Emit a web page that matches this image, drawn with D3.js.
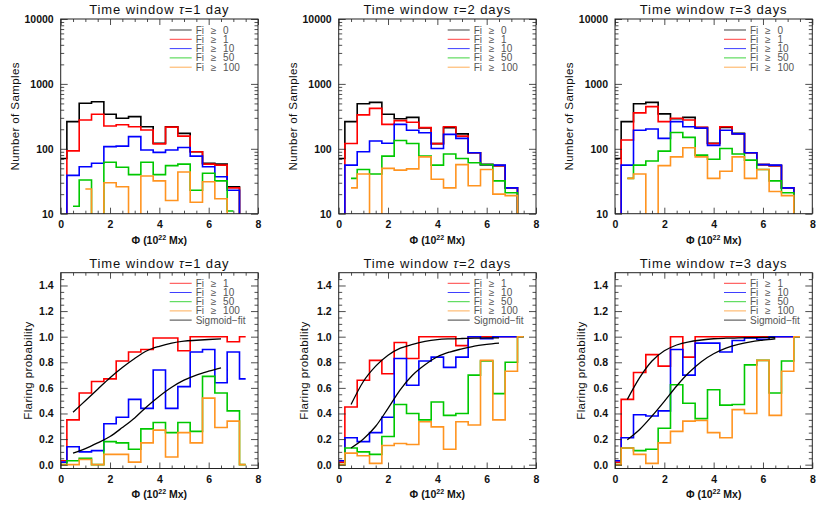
<!DOCTYPE html>
<html>
<head>
<meta charset="utf-8">
<script src="https://cdn.jsdelivr.net/npm/d3@7"></script>
<style>
body { margin: 0; background: #fff; }
svg { display: block; font-family: "Liberation Sans", Arial, sans-serif; }
</style>
</head>
<body>
<div id="container"></div>
<script>
var width = 830;
var height = 507;

// bin centres of the magnetic flux histogram (10^22 Mx)
var phi = [0, 0.5, 1, 1.5, 2, 2.5, 3, 3.5, 4, 4.5, 5, 5.5, 6, 6.5, 7, 7.5];
// x positions of the sigmoid fit curves
var phiFit = [0.5, 1, 1.5, 2, 2.5, 3, 3.5, 4, 4.5, 5, 5.5, 6, 6.5];

var windows = ["1 day", "2 days", "3 days"];
var countLabels = ["Fi \u2265 0", "Fi \u2265 1", "Fi \u2265 10", "Fi \u2265 50", "Fi \u2265 100"];
var probLabels = ["Fi \u2265 1", "Fi \u2265 10", "Fi \u2265 50", "Fi \u2265 100", "Sigmoid\u2212fit"];
var logTicks = [10, 100, 1000, 10000];
var probTicks = [0, 0.2, 0.4, 0.6, 0.8, 1.0, 1.2, 1.4];
var xTicks = [0, 2, 4, 6, 8];

// number of samples, tau = 1 day (0 = empty bin)
var t1_fi0   = [71, 262, 502, 532, 340, 295, 313, 219, 122, 219, 173, 90, 60, 58, 26, 5];
var t1_fi1   = [2, 93, 278, 340, 224, 235, 219, 195, 119, 216, 157, 90, 58, 56, 25, 3];
var t1_fi10  = [1, 39, 53, 60, 108, 110, 154, 96, 88, 96, 105, 77, 53, 37, 23, 2];
var t1_fi50  = [0, 13, 33, 5, 62, 52, 40, 62, 40, 55, 58, 23, 42, 32, 11, 0];
var t1_fi100 = [0, 0, 24, 5, 30, 26, 5, 38, 32, 16, 44, 15, 31, 17, 4, 0];
// tau = 2 days
var t2_fi0   = [71, 262, 494, 520, 340, 290, 305, 210, 120, 212, 170, 87, 57, 55, 25, 4];
var t2_fi1   = [2, 121, 333, 420, 238, 272, 256, 212, 120, 219, 157, 87, 57, 55, 25, 3];
var t2_fi10  = [1, 56, 90, 132, 122, 238, 193, 177, 101, 167, 145, 87, 57, 56, 25, 2];
var t2_fi50  = [0, 35, 48, 41, 77, 134, 121, 77, 56, 83, 71, 61, 57, 32, 21, 3];
var t2_fi100 = [0, 25, 41, 3, 50, 47, 49, 75, 34, 25, 57, 27, 48, 20, 19, 2];
// tau = 3 days
var t3_fi0   = [71, 262, 494, 520, 345, 290, 305, 212, 122, 214, 173, 87, 57, 55, 25, 4];
var t3_fi1   = [2, 137, 358, 446, 262, 295, 278, 214, 120, 219, 170, 87, 57, 55, 25, 3];
var t3_fi10  = [1, 56, 193, 202, 145, 262, 219, 208, 113, 193, 170, 87, 57, 56, 25, 2];
var t3_fi50  = [0, 35, 56, 65, 92, 178, 150, 80, 69, 101, 83, 67, 48, 32, 21, 3];
var t3_fi100 = [0, 35, 41, 3, 55, 75, 104, 75, 35, 45, 75, 35, 48, 22, 19, 2];

// flaring probability, tau = 1 day
var p1_fi1   = [0.03, 0.35, 0.56, 0.65, 0.67, 0.81, 0.88, 0.90, 0.99, 0.99, 0.89, 1.0, 1.0, 1.0, 0.96, 1.0];
var p1_fi10  = [0.02, 0.14, 0.10, 0.11, 0.32, 0.37, 0.51, 0.44, 0.74, 0.44, 0.61, 0.88, 0.90, 0.64, 0.88, 0.67];
var p1_fi50  = [0.0, 0.03, 0.05, 0.0, 0.18, 0.17, 0.12, 0.28, 0.33, 0.25, 0.33, 0.26, 0.69, 0.56, 0.42, 0.0];
var p1_fi100 = [0.0, 0.0, 0.04, 0.0, 0.08, 0.08, 0.02, 0.17, 0.27, 0.06, 0.25, 0.17, 0.52, 0.29, 0.34, 0.0];
// tau = 2 days
var p2_fi1   = [0.02, 0.45, 0.66, 0.815, 0.71, 0.955, 0.83, 1.0, 1.0, 1.0, 0.93, 1.0, 1.0, 1.0, 1.0, 1.0];
var p2_fi10  = [0.03, 0.21, 0.18, 0.25, 0.37, 0.83, 0.62, 0.81, 0.84, 0.76, 0.84, 1.0, 0.985, 1.0, 1.0, 1.0];
var p2_fi50  = [0.0, 0.13, 0.10, 0.08, 0.22, 0.47, 0.40, 0.35, 0.49, 0.385, 0.40, 0.70, 0.81, 0.555, 0.80, 1.0];
var p2_fi100 = [0.0, 0.09, 0.07, 0.01, 0.15, 0.165, 0.157, 0.335, 0.295, 0.12, 0.335, 0.31, 0.815, 0.35, 0.73, 1.0];
// tau = 3 days
var p3_fi1   = [0.02, 0.51, 0.72, 0.86, 0.77, 1.0, 0.84, 1.0, 1.0, 1.0, 1.0, 1.0, 1.0, 1.0, 1.0, 1.0];
var p3_fi10  = [0.03, 0.21, 0.39, 0.38, 0.42, 0.90, 0.70, 0.95, 0.95, 0.88, 0.97, 0.99, 0.98, 1.0, 1.0, 1.0];
var p3_fi50  = [0.0, 0.13, 0.11, 0.12, 0.285, 0.625, 0.48, 0.36, 0.585, 0.465, 0.47, 0.78, 0.815, 0.56, 0.81, 1.0];
var p3_fi100 = [0.0, 0.13, 0.08, 0.01, 0.17, 0.26, 0.34, 0.345, 0.25, 0.21, 0.43, 0.40, 0.815, 0.385, 0.73, 1.0];

// sigmoid fits
var s1_fi1  = [0.41, 0.50, 0.59, 0.68, 0.76, 0.83, 0.89, 0.925, 0.95, 0.965, 0.972, 0.978, 0.983];
var s1_fi10 = [0.09, 0.125, 0.17, 0.22, 0.29, 0.365, 0.455, 0.535, 0.605, 0.66, 0.70, 0.73, 0.756];
var s2_fi1  = [0.47, 0.65, 0.77, 0.855, 0.91, 0.94, 0.963, 0.977, 0.983, 0.986, 0.988, 0.99, 0.99];
var s2_fi10 = [0.13, 0.20, 0.30, 0.44, 0.587, 0.70, 0.78, 0.843, 0.88, 0.905, 0.927, 0.94, 0.95];
var s3_fi1  = [0.51, 0.68, 0.81, 0.89, 0.935, 0.96, 0.974, 0.984, 0.988, 0.99, 0.992, 0.994, 0.995];
var s3_fi10 = [0.195, 0.275, 0.38, 0.495, 0.615, 0.72, 0.805, 0.867, 0.91, 0.94, 0.96, 0.973, 0.984];

var countSets = [
    [t1_fi0, t1_fi1, t1_fi10, t1_fi50, t1_fi100],
    [t2_fi0, t2_fi1, t2_fi10, t2_fi50, t2_fi100],
    [t3_fi0, t3_fi1, t3_fi10, t3_fi50, t3_fi100]
];
var probSets = [
    [p1_fi1, p1_fi10, p1_fi50, p1_fi100],
    [p2_fi1, p2_fi10, p2_fi50, p2_fi100],
    [p3_fi1, p3_fi10, p3_fi50, p3_fi100]
];
var fitSets = [[s1_fi1, s1_fi10], [s2_fi1, s2_fi10], [s3_fi1, s3_fi10]];

var colors = ["#000000", "#ff0000", "#0000ff", "#00c800", "#ff9420"];
var probColors = ["#ff0000", "#0000ff", "#00c800", "#ff9420", "#000000"];

var panelLeft = [60.7, 338.7, 615];
var panelW = 197.3;
var rowTop = [19, 272.7];
var rowBottom = [213.7, 468.5];

var svg = d3.select("div#container").append("svg")
    .attr("width", width)
    .attr("height", height);

// psym=10 style histogram: segments only join valid neighbours
function stepPieces(xs, ys, ok) {
    var dx = xs[1] - xs[0];
    var pieces = [], cur = null;
    for (var i = 0; i < xs.length; i++) {
        if (!ok(ys[i])) {
            if (cur) { pieces.push(cur); cur = null; }
            continue;
        }
        var nextOk = i < xs.length - 1 && ok(ys[i + 1]);
        if (!cur) {
            cur = [[xs[i], ys[i]]];
        } else {
            cur.push([xs[i] - dx / 2, ys[i]]);
        }
        cur.push([nextOk ? xs[i] + dx / 2 : xs[i], ys[i]]);
    }
    if (cur) pieces.push(cur);
    return pieces.filter(function(p) { return p.length > 1 && p[0][0] !== p[p.length - 1][0]; });
}

function drawFrame(g, x, y, w, h, yMajor, yMinor, yFmt) {
    var mk = function(axis, scale, vals, size) {
        return axis(scale).tickValues(vals).tickSize(size).tickSizeOuter(0).tickFormat("");
    };
    var xMinor = [0.5, 1, 1.5, 2.5, 3, 3.5, 4.5, 5, 5.5, 6.5, 7, 7.5];
    // bottom
    g.append("g").attr("transform", "translate(0," + h + ")")
        .call(d3.axisBottom(x).tickValues(xTicks).tickSize(-6).tickSizeOuter(0)
            .tickPadding(7).tickFormat(d3.format("d")));
    g.append("g").attr("transform", "translate(0," + h + ")").call(mk(d3.axisBottom, x, xMinor, -3));
    // top
    g.append("g").call(mk(d3.axisTop, x, xTicks, -6));
    g.append("g").call(mk(d3.axisTop, x, xMinor, -3));
    // left
    g.append("g")
        .call(d3.axisLeft(y).tickValues(yMajor).tickSize(-7).tickSizeOuter(0)
            .tickPadding(7).tickFormat(yFmt));
    g.append("g").call(mk(d3.axisLeft, y, yMinor, -3.5));
    // right
    g.append("g").attr("transform", "translate(" + w + ",0)").call(mk(d3.axisRight, y, yMajor, -7));
    g.append("g").attr("transform", "translate(" + w + ",0)").call(mk(d3.axisRight, y, yMinor, -3.5));

    g.selectAll(".domain").remove();
    g.selectAll(".tick line").attr("stroke", "#222").attr("stroke-width", 0.8);
    g.selectAll(".tick text").attr("font-size", 10.5).attr("font-weight", "bold").attr("fill", "#111");
    g.append("rect").attr("width", w).attr("height", h)
        .attr("fill", "none").attr("stroke", "#222").attr("stroke-width", 1);
}

function drawTitle(g, w, label) {
    g.append("text")
        .attr("x", w / 2).attr("y", -5)
        .attr("text-anchor", "middle")
        .attr("font-size", 13).attr("letter-spacing", 0.9).attr("fill", "#111")
        .html("Time window <tspan font-style='italic'>\u03c4</tspan>=" + label);
}

function drawXLabel(g, w, h) {
    var t = g.append("text")
        .attr("x", w / 2).attr("y", h + 30)
        .attr("text-anchor", "middle")
        .attr("font-size", 10.5).attr("font-weight", "bold").attr("fill", "#111");
    t.append("tspan").text("\u03a6 (10");
    t.append("tspan").attr("font-size", 7).attr("dy", -4).text("22");
    t.append("tspan").attr("dy", 4).text(" Mx)");
}

function drawYLabel(g, h, offset, label) {
    g.append("text")
        .attr("transform", "translate(" + (-offset) + "," + (h / 2) + ") rotate(-90)")
        .attr("text-anchor", "middle")
        .attr("font-size", 11.5).attr("letter-spacing", 0.4).attr("fill", "#111")
        .text(label);
}

function drawLegend(g, labels, cols, y0, dy) {
    labels.forEach(function(lab, i) {
        var yy = y0 + i * dy;
        g.append("line")
            .attr("x1", 109).attr("x2", 131).attr("y1", yy).attr("y2", yy)
            .attr("stroke", cols[i]).attr("stroke-width", 1).attr("opacity", 0.75);
        g.append("text")
            .attr("x", 135).attr("y", yy + 3.5)
            .attr("font-size", 10).attr("fill", "#555").attr("word-spacing", 4)
            .text(lab);
    });
}

var x = d3.scaleLinear().domain([0, 8]).range([0, panelW]);
var line = d3.line();

windows.forEach(function(win, k) {
    // ---- top row: number of samples ----
    var h = rowBottom[0] - rowTop[0];
    var y = d3.scaleLog().domain([10, 10000]).range([h, 0]);
    var g = svg.append("g").attr("transform", "translate(" + panelLeft[k] + "," + rowTop[0] + ")");
    var clipId = "clipTop" + k;
    g.append("clipPath").attr("id", clipId).append("rect").attr("width", panelW).attr("height", h);
    var plot = g.append("g").attr("clip-path", "url(#" + clipId + ")");

    countSets[k].forEach(function(vals, s) {
        stepPieces(phi, vals, function(v) { return v > 0; }).forEach(function(piece) {
            plot.append("path")
                .attr("d", line(piece.map(function(p) { return [x(p[0]), y(p[1])]; })))
                .attr("fill", "none").attr("stroke", colors[s]).attr("stroke-width", 1.6);
        });
    });
    var logMinor = [];
    [10, 100, 1000].forEach(function(d) {
        [2, 3, 4, 5, 6, 7, 8, 9].forEach(function(m) { logMinor.push(d * m); });
    });
    drawFrame(g, x, y, panelW, h, logTicks, logMinor, d3.format("d"));
    drawTitle(g, panelW, win);
    drawXLabel(g, panelW, h);
    drawYLabel(g, h, 42, "Number of Samples");
    drawLegend(g, countLabels, colors, 11, 9.3);

    // ---- bottom row: flaring probability ----
    var h2 = rowBottom[1] - rowTop[1];
    var y2 = d3.scaleLinear().domain([-0.03, 1.5]).range([h2, 0]);
    var g2 = svg.append("g").attr("transform", "translate(" + panelLeft[k] + "," + rowTop[1] + ")");
    var clipId2 = "clipBot" + k;
    g2.append("clipPath").attr("id", clipId2).append("rect").attr("width", panelW).attr("height", h2);
    var plot2 = g2.append("g").attr("clip-path", "url(#" + clipId2 + ")");

    probSets[k].forEach(function(vals, s) {
        stepPieces(phi, vals, function(v) { return v != null; }).forEach(function(piece) {
            plot2.append("path")
                .attr("d", line(piece.map(function(p) { return [x(p[0]), y2(p[1])]; })))
                .attr("fill", "none").attr("stroke", probColors[s]).attr("stroke-width", 1.6);
        });
    });
    var fitLine = d3.line()
        .x(function(d, i) { return x(phiFit[i]); })
        .y(function(d) { return y2(d); })
        .curve(d3.curveMonotoneX);
    fitSets[k].forEach(function(vals) {
        plot2.append("path").attr("d", fitLine(vals))
            .attr("fill", "none").attr("stroke", "#000").attr("stroke-width", 1.3);
    });
    var probMinor = d3.range(0, 1.5, 0.05).filter(function(v) {
        return Math.abs(v * 5 - Math.round(v * 5)) > 1e-6;
    });
    drawFrame(g2, x, y2, panelW, h2, probTicks, probMinor, d3.format(".1f"));
    drawTitle(g2, panelW, win);
    drawXLabel(g2, panelW, h2);
    drawYLabel(g2, h2, k === 0 ? 29 : (k === 1 ? 31 : 30), "Flaring probability");
    drawLegend(g2, probLabels, probColors, 10.6, 9.2);
});
</script>
</body>
</html>
